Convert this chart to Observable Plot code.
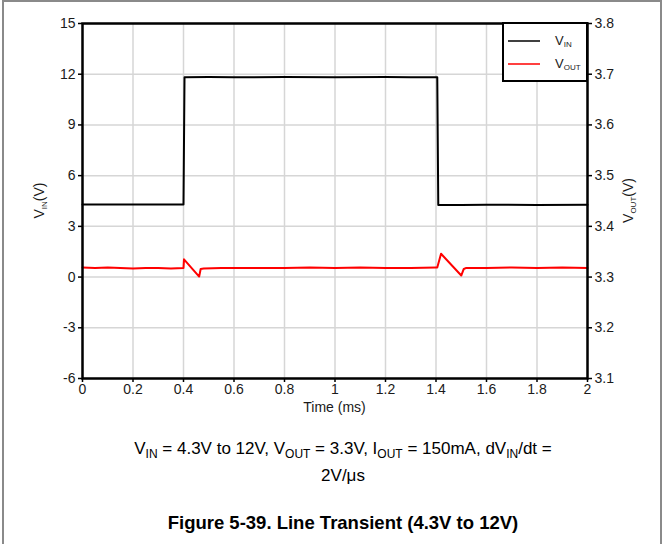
<!DOCTYPE html>
<html>
<head>
<meta charset="utf-8">
<script src="https://cdn.jsdelivr.net/npm/d3@7"></script>
<script src="https://cdn.jsdelivr.net/npm/@observablehq/plot@0.6"></script>
<style>
  html, body { margin: 0; padding: 0; background: #fff; }
  body { width: 662px; height: 544px; position: relative; overflow: hidden; font-family: "Liberation Sans", Arial, sans-serif; }
  #frame { position: absolute; left: 2px; top: 0px; width: 656px; height: 600px; border: 2px solid #8a8a8a; border-bottom: none; }
  #chart { position: absolute; left: 0; top: 0; }
  #chart svg g[aria-label*="tick label"], #chart svg g[aria-label*="tick label"] text { font-size: 14px !important; font-family: "Liberation Sans", Arial, sans-serif !important; }
  .cap { position: absolute; left: 0; width: 662px; text-align: center; font-size: 17px; color: #000; }
  .cap sub { font-size: 12px; vertical-align: -0.3em; line-height: 0; }
  #title { font-weight: bold; font-size: 18.5px; }
</style>
</head>
<body>
<div id="frame"></div>
<div id="chart"></div>
<div class="cap" id="l1" style="top:439px; left:12px;">V<sub>IN</sub> = 4.3V to 12V, V<sub>OUT</sub> = 3.3V, I<sub>OUT</sub> = 150mA, dV<sub>IN</sub>/dt =</div>
<div class="cap" id="l2" style="top:466px; left:12px;">2V/μs</div>
<div class="cap" id="title" style="top:512px; left:12px;">Figure 5-39. Line Transient (4.3V to 12V)</div>
<script>
// ---- data ----
const xTicks = [0, 0.2, 0.4, 0.6, 0.8, 1, 1.2, 1.4, 1.6, 1.8, 2];
const vinTicks = [-6, -3, 0, 3, 6, 9, 12, 15];
const voutTickLabels = ["3.1", "3.2", "3.3", "3.4", "3.5", "3.6", "3.7", "3.8"];

const vinTime = [0, 0.1, 0.2, 0.3, 0.4, 0.404, 0.5, 0.6, 0.8, 1.0, 1.2, 1.3, 1.405, 1.409, 1.5, 1.6, 1.8, 2.0];
const vinVal  = [4.3, 4.3, 4.3, 4.3, 4.3, 11.82, 11.83, 11.82, 11.83, 11.82, 11.83, 11.82, 11.82, 4.27, 4.27, 4.28, 4.27, 4.28];

const voutTime = [0, 0.05, 0.1, 0.15, 0.2, 0.25, 0.3, 0.35, 0.4, 0.402, 0.462, 0.468, 0.48, 0.55, 0.6, 0.7, 0.8, 0.9, 1.0, 1.1, 1.2, 1.3, 1.4, 1.405, 1.42, 1.50, 1.51, 1.52, 1.6, 1.7, 1.8, 1.9, 2.0];
const voutVal  = [3.319, 3.318, 3.319, 3.318, 3.317, 3.318, 3.318, 3.317, 3.318, 3.335, 3.301, 3.316, 3.317, 3.318, 3.318, 3.318, 3.318, 3.319, 3.318, 3.319, 3.318, 3.318, 3.319, 3.319, 3.346, 3.303, 3.316, 3.318, 3.318, 3.319, 3.318, 3.319, 3.318];

const vin = vinTime.map((t, i) => ({t, v: vinVal[i]}));
const vout = voutTime.map((t, i) => ({t, v: voutVal[i]}));
// right axis (VOUT) maps onto left (VIN) scale: VOUT 3.3 <-> VIN 0, 0.1V <-> 3V
const toVin = v => (v - 3.3) * 30;
const toVout = (y) => voutTickLabels[vinTicks.indexOf(y)];

const W = 662, H = 420, mT = 23, mB = 42, mL = 82, mR = 75;

const chart = Plot.plot({
  width: W, height: H,
  marginTop: mT, marginBottom: mB, marginLeft: mL, marginRight: mR,
  style: {fontFamily: "'Liberation Sans', Arial, sans-serif", fontSize: "14px", color: "#1a1a1a", background: "transparent"},
  x: {domain: [0, 2]},
  y: {domain: [-6, 15]},
  marks: [
    Plot.gridX(xTicks, {stroke: "#d6d6d6", strokeOpacity: 1, strokeWidth: 1.5}),
    Plot.gridY(vinTicks, {stroke: "#d6d6d6", strokeOpacity: 1, strokeWidth: 1.5}),
    Plot.axisX(xTicks, {tickSize: 4, tickPadding: 2, fontSize: 14, tickFormat: d => String(d), label: null, stroke: "#000", strokeWidth: 1.5}),
    Plot.axisY(vinTicks, {anchor: "left", tickSize: 4, tickPadding: 3, fontSize: 14, tickFormat: d => String(d), label: null, stroke: "#000", strokeWidth: 1.5}),
    Plot.axisY(vinTicks, {anchor: "right", tickSize: 4, tickPadding: 3, fontSize: 14, tickFormat: toVout, label: null, stroke: "#000", strokeWidth: 1.5}),
    Plot.line(vin, {x: "t", y: "v", stroke: "#000", strokeWidth: 2}),
    Plot.line(vout, {x: "t", y: d => toVin(d.v), stroke: "#ff0000", strokeWidth: 2}),
    Plot.frame({stroke: "#000", strokeWidth: 2.5})
  ]
});
document.getElementById("chart").appendChild(chart);

const svg = d3.select(chart);
const xs = chart.scale("x"), ys = chart.scale("y");
const font = "'Liberation Sans', Arial, sans-serif";

// x-axis label
svg.append("text").attr("x", (xs.apply(0) + xs.apply(2)) / 2).attr("y", H - 8)
  .attr("text-anchor", "middle").attr("font-family", font).attr("font-size", 14).attr("fill", "#1a1a1a")
  .text("Time (ms)");

function vLabel(x, main, sub) {
  const t = svg.append("text")
    .attr("transform", `translate(${x},${(ys.apply(-6) + ys.apply(15)) / 2}) rotate(-90)`)
    .attr("text-anchor", "middle").attr("font-family", font).attr("font-size", 14).attr("fill", "#1a1a1a");
  t.append("tspan").text(main);
  t.append("tspan").attr("font-size", 8).attr("dy", 3).text(sub);
  t.append("tspan").attr("dy", -3).text("(V)");
}
vLabel(44, "V", "IN");
vLabel(633, "V", "OUT");

// legend box
const pxRight = xs.apply(2), pxTop = ys.apply(15);
const lg = svg.append("g");
lg.append("rect").attr("x", pxRight - 84).attr("y", pxTop).attr("width", 84).attr("height", 58)
  .attr("fill", "#fff").attr("stroke", "#000").attr("stroke-width", 2);
const items = [["IN", "#000", 18], ["OUT", "#ff0000", 41]];
for (const [sub, col, dy] of items) {
  lg.append("line").attr("x1", pxRight - 79).attr("x2", pxRight - 47).attr("y1", pxTop + dy).attr("y2", pxTop + dy)
    .attr("stroke", col).attr("stroke-width", 1.5);
  const t = lg.append("text").attr("x", pxRight - 32).attr("y", pxTop + dy + 4).attr("text-anchor", "start")
    .attr("font-family", font).attr("font-size", 13).attr("fill", "#1a1a1a");
  t.append("tspan").text("V");
  t.append("tspan").attr("font-size", 8).attr("dy", 2).text(sub);
}
</script>
</body>
</html>
